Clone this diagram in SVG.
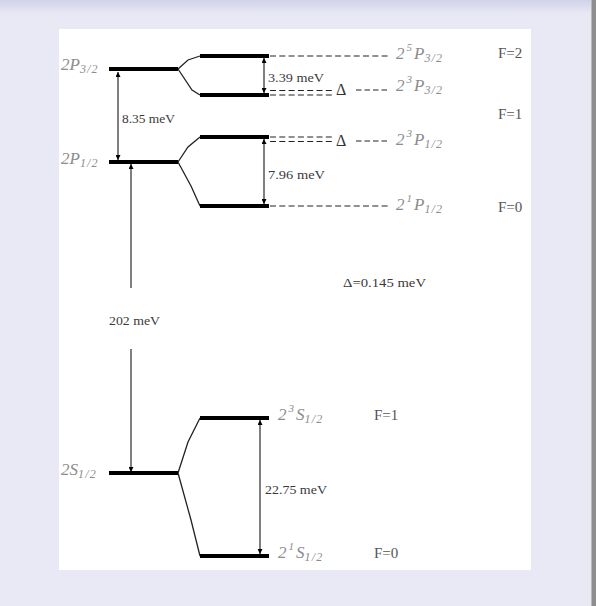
<svg xmlns="http://www.w3.org/2000/svg" width="596" height="606" viewBox="0 0 596 606">
<defs>
<linearGradient id="topg" x1="0" y1="0" x2="0" y2="1">
<stop offset="0" stop-color="#d2d2ea"/>
<stop offset="1" stop-color="#e9e9f5"/>
</linearGradient>
<marker id="ah" viewBox="0 0 8 8" refX="8" refY="4" markerWidth="5" markerHeight="5" markerUnits="userSpaceOnUse" orient="auto-start-reverse">
<path d="M0,0 L8,4 L0,8 Z" fill="#000"/>
</marker>
<style>
.lvl{stroke:#000;stroke-width:4;fill:none}
.split{stroke:#222;stroke-width:1.3;fill:none}
.arr{stroke:#000;stroke-width:1;fill:none}
.dash{stroke:#222;stroke-width:1.2;fill:none;stroke-dasharray:6 3.3}
.dash2{stroke:#222;stroke-width:1.2;fill:none;stroke-dasharray:5.5 3}
.lab{font-family:"Liberation Serif",serif;font-style:italic;fill:#8c8c8c}
.big{font-size:17px}
.sm{font-size:11px}
.sub{font-size:12px;letter-spacing:1.2px}
.val{font-family:"Liberation Serif",serif;font-size:13px;fill:#3a3a3a}
.dl{font-family:"Liberation Serif",serif;font-size:16px;fill:#333}
.F{font-family:"Liberation Serif",serif;font-size:15px;fill:#555}
</style>
</defs>
<rect width="596" height="606" fill="#e9e9f5"/>
<rect width="596" height="14" fill="url(#topg)"/>
<rect x="591" y="0" width="5" height="606" fill="#8e8e8e"/>
<rect x="591" y="0" width="1" height="606" fill="#b8b8b8"/>
<rect x="59" y="29" width="472" height="541" fill="#fff"/>

<g id="connectors">
<path class="split" d="M178,69 L188,60 L200,56 M178,69 L192,90 L200,95"/>
<path class="split" d="M178,162 L188,147 L200,137 M178,162 L191,186 L200,206"/>
<path class="split" d="M178,473 L188,442 L200,418 M178,473 L191,520 L200,556"/>
<line class="arr" x1="118" y1="72" x2="118" y2="160" marker-start="url(#ah)" marker-end="url(#ah)"/>
<line class="arr" x1="264" y1="58" x2="264" y2="93" marker-start="url(#ah)" marker-end="url(#ah)"/>
<line class="arr" x1="264" y1="139" x2="264" y2="204" marker-start="url(#ah)" marker-end="url(#ah)"/>
<line class="arr" x1="260" y1="420" x2="260" y2="554" marker-start="url(#ah)" marker-end="url(#ah)"/>
<line class="arr" x1="131" y1="288" x2="131" y2="164" marker-end="url(#ah)"/>
<line class="arr" x1="131" y1="349" x2="131" y2="472" marker-end="url(#ah)"/>
<line class="dash" x1="270" y1="56" x2="388" y2="56"/>
<line class="dash" x1="270" y1="206" x2="388" y2="206"/>
<line class="dash" x1="270" y1="90.5" x2="335" y2="90.5"/>
<line class="dash" x1="270" y1="95" x2="335" y2="95"/>
<line class="dash2" x1="356" y1="90" x2="388" y2="90"/>
<line class="dash" x1="270" y1="137" x2="335" y2="137"/>
<line class="dash" x1="270" y1="141.5" x2="335" y2="141.5"/>
<line class="dash2" x1="356" y1="141" x2="388" y2="141"/>
</g>

<g id="n-2P32">
<line class="lvl" x1="109" y1="69" x2="178" y2="69"/>
<text class="lab" x="61" y="70"><tspan class="big">2P</tspan><tspan class="sub" dy="3">3/2</tspan></text>
</g>
<g id="n-2P12">
<line class="lvl" x1="109" y1="162" x2="178" y2="162"/>
<text class="lab" x="61" y="164"><tspan class="big">2P</tspan><tspan class="sub" dy="3">1/2</tspan></text>
</g>
<g id="n-2S12">
<line class="lvl" x1="109" y1="473" x2="178" y2="473"/>
<text class="lab" x="61" y="475"><tspan class="big">2S</tspan><tspan class="sub" dy="3">1/2</tspan></text>
</g>

<g id="n-25P32">
<line class="lvl" x1="200" y1="56" x2="269" y2="56"/>
<text class="lab" x="396" y="59"><tspan class="big">2</tspan><tspan class="sm" dx="2" dy="-8">5</tspan><tspan class="big" dx="2" dy="8">P</tspan><tspan class="sub" dy="3">3/2</tspan></text>
<text class="F" x="498" y="58">F=2</text>
</g>
<g id="n-23P32">
<line class="lvl" x1="200" y1="95" x2="269" y2="95"/>
<text class="lab" x="396" y="91"><tspan class="big">2</tspan><tspan class="sm" dx="2" dy="-8">3</tspan><tspan class="big" dx="2" dy="8">P</tspan><tspan class="sub" dy="3">3/2</tspan></text>
<text class="dl" x="336" y="95">Δ</text>
<text class="val" x="268" y="82" textLength="56" lengthAdjust="spacingAndGlyphs">3.39 meV</text>
</g>
<g id="n-23P12">
<line class="lvl" x1="200" y1="137" x2="269" y2="137"/>
<text class="lab" x="396" y="145"><tspan class="big">2</tspan><tspan class="sm" dx="2" dy="-8">3</tspan><tspan class="big" dx="2" dy="8">P</tspan><tspan class="sub" dy="3">1/2</tspan></text>
<text class="dl" x="336" y="146">Δ</text>
<text class="F" x="498" y="119">F=1</text>
</g>
<g id="n-21P12">
<line class="lvl" x1="200" y1="206" x2="269" y2="206"/>
<text class="lab" x="396" y="210"><tspan class="big">2</tspan><tspan class="sm" dx="2" dy="-8">1</tspan><tspan class="big" dx="2" dy="8">P</tspan><tspan class="sub" dy="3">1/2</tspan></text>
<text class="F" x="498" y="212">F=0</text>
<text class="val" x="268" y="179" textLength="57" lengthAdjust="spacingAndGlyphs">7.96 meV</text>
</g>
<g id="n-23S12">
<line class="lvl" x1="200" y1="418" x2="269" y2="418"/>
<text class="lab" x="278" y="420"><tspan class="big">2</tspan><tspan class="sm" dx="2" dy="-8">3</tspan><tspan class="big" dx="2" dy="8">S</tspan><tspan class="sub" dy="3">1/2</tspan></text>
<text class="F" x="374" y="420">F=1</text>
</g>
<g id="n-21S12">
<line class="lvl" x1="200" y1="556" x2="269" y2="556"/>
<text class="lab" x="278" y="558"><tspan class="big">2</tspan><tspan class="sm" dx="2" dy="-8">1</tspan><tspan class="big" dx="2" dy="8">S</tspan><tspan class="sub" dy="3">1/2</tspan></text>
<text class="F" x="374" y="558">F=0</text>
</g>

<g id="labels">
<text class="val" x="122" y="123" textLength="53" lengthAdjust="spacingAndGlyphs">8.35 meV</text>
<text class="val" x="109" y="325" textLength="51" lengthAdjust="spacingAndGlyphs">202 meV</text>
<text class="val" x="265" y="494" textLength="62" lengthAdjust="spacingAndGlyphs">22.75 meV</text>
<text class="val" x="343" y="287" textLength="83" lengthAdjust="spacingAndGlyphs">Δ=0.145 meV</text>
</g>
</svg>
